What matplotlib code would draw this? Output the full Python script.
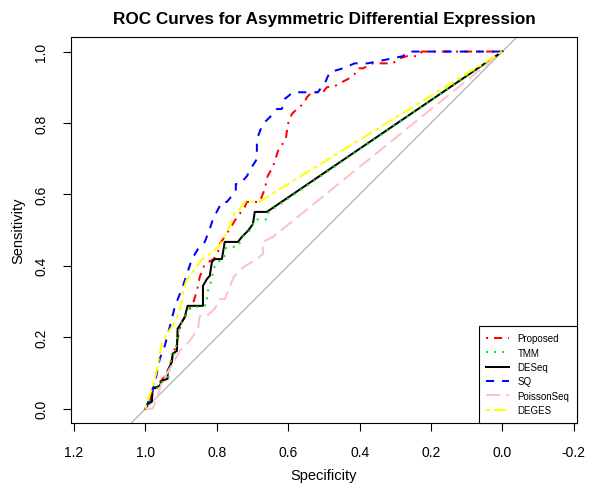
import matplotlib
matplotlib.use('Agg')
import matplotlib.pyplot as plt

plt.rcParams['font.family'] = ['Liberation Sans', 'DejaVu Sans']

# ROC curve vertices (specificity, sensitivity)
proposed_spec = [1.0, 0.988, 0.980, 0.952, 0.938, 0.926, 0.912, 0.901, 0.884, 0.867, 0.856, 0.848,
                 0.834, 0.809, 0.797, 0.792, 0.764, 0.747, 0.722, 0.716, 0.680, 0.666, 0.658, 0.643,
                 0.629, 0.607, 0.601, 0.590, 0.576, 0.556, 0.548, 0.534, 0.503, 0.492, 0.470, 0.450,
                 0.433, 0.414, 0.405, 0.391, 0.363, 0.307, 0.288, 0.268, 0.237, 0.226, 0.0]
proposed_sens = [0.0, 0.020, 0.048, 0.084, 0.098, 0.140, 0.187, 0.238, 0.266, 0.294, 0.330, 0.369,
                 0.405, 0.419, 0.439, 0.461, 0.503, 0.531, 0.565, 0.579, 0.579, 0.615, 0.651, 0.677,
                 0.721, 0.755, 0.797, 0.825, 0.839, 0.855, 0.872, 0.886, 0.886, 0.900, 0.903, 0.914,
                 0.923, 0.937, 0.953, 0.953, 0.967, 0.967, 0.981, 0.987, 0.987, 1.0, 1.0]

tmm_spec = [1.0, 0.990, 0.982, 0.962, 0.950, 0.935, 0.930, 0.920, 0.915, 0.910, 0.903, 0.893,
            0.884, 0.878, 0.830, 0.825, 0.815, 0.810, 0.800, 0.780, 0.775, 0.740, 0.730, 0.715,
            0.700, 0.695, 0.660, 0.655, 0.0]
tmm_sens = [0.0, 0.020, 0.050, 0.060, 0.080, 0.090, 0.130, 0.150, 0.170, 0.210, 0.230, 0.250,
            0.270, 0.280, 0.290, 0.330, 0.360, 0.390, 0.410, 0.420, 0.450, 0.455, 0.480, 0.490,
            0.510, 0.530, 0.530, 0.551, 1.0]

deseq_spec = [1.0, 0.994, 0.982, 0.980, 0.960, 0.954, 0.938, 0.938, 0.926, 0.924, 0.912, 0.910,
              0.898, 0.890, 0.882, 0.839, 0.839, 0.828, 0.820, 0.814, 0.806, 0.786, 0.778, 0.741,
              0.730, 0.713, 0.699, 0.694, 0.660, 0.0]
deseq_sens = [0.0, 0.014, 0.020, 0.056, 0.064, 0.078, 0.084, 0.106, 0.131, 0.154, 0.162, 0.224,
              0.243, 0.257, 0.288, 0.288, 0.344, 0.363, 0.372, 0.411, 0.419, 0.419, 0.467, 0.467,
              0.481, 0.498, 0.517, 0.551, 0.551, 1.0]

sq_spec = [1.0, 0.994, 0.974, 0.960, 0.946, 0.932, 0.918, 0.896, 0.882, 0.870, 0.853, 0.834,
           0.820, 0.811, 0.786, 0.772, 0.747, 0.747, 0.736, 0.716, 0.702, 0.688, 0.688, 0.677,
           0.666, 0.646, 0.632, 0.618, 0.610, 0.587, 0.517, 0.495, 0.484, 0.447, 0.414, 0.377,
           0.279, 0.265, 0.0]
sq_sens = [0.0, 0.014, 0.070, 0.140, 0.176, 0.229, 0.285, 0.341, 0.383, 0.419, 0.447, 0.467,
           0.503, 0.531, 0.579, 0.579, 0.609, 0.629, 0.629, 0.651, 0.677, 0.699, 0.755, 0.783,
           0.802, 0.822, 0.839, 0.839, 0.867, 0.886, 0.886, 0.917, 0.942, 0.953, 0.967, 0.967,
           0.987, 1.0, 1.0]

poisson_spec = [1.0, 0.980, 0.968, 0.954, 0.921, 0.904, 0.876, 0.853, 0.848, 0.828, 0.806, 0.792,
                0.778, 0.753, 0.725, 0.688, 0.671, 0.671, 0.643, 0.0]
poisson_sens = [0.0, 0.0, 0.028, 0.075, 0.131, 0.162, 0.190, 0.224, 0.260, 0.260, 0.280, 0.307,
                0.307, 0.369, 0.397, 0.419, 0.433, 0.467, 0.481, 1.0]

deges_spec = [1.0, 0.996, 0.980, 0.970, 0.955, 0.940, 0.925, 0.910, 0.900, 0.895, 0.885, 0.870,
              0.855, 0.840, 0.810, 0.790, 0.770, 0.760, 0.750, 0.735, 0.720, 0.680, 0.0]
deges_sens = [0.0, 0.020, 0.060, 0.100, 0.180, 0.210, 0.230, 0.260, 0.290, 0.330, 0.360, 0.380,
              0.400, 0.420, 0.440, 0.460, 0.500, 0.520, 0.550, 0.560, 0.580, 0.580, 1.0]

x_ticks = [1.2, 1.0, 0.8, 0.6, 0.4, 0.2, 0.0, -0.2]
y_ticks = [0.0, 0.2, 0.4, 0.6, 0.8, 1.0]

fig = plt.figure(figsize=(5.9, 4.85), dpi=100)
ax = fig.add_axes([0.1198, 0.1258, 0.8586, 0.7953])

# identity line
ax.axline((1.0, 0.0), (0.0, 1.0), color='darkgrey', lw=0.8, zorder=1)

lw = 1.45
ax.plot(proposed_spec, proposed_sens, color='red', lw=lw, ls=(0, (1, 3, 4, 3)), label='Proposed')
ax.plot(deseq_spec, deseq_sens, color='black', lw=lw, ls='-', label='DESeq')
ax.plot(tmm_spec, tmm_sens, color='#00ee00', lw=lw, ls=(0, (1, 3)), label='TMM')
ax.plot(sq_spec, sq_sens, color='blue', lw=lw, ls=(0, (4, 4)), label='SQ')
ax.plot(poisson_spec, poisson_sens, color='pink', lw=lw, ls=(0, (7, 3)), label='PoissonSeq')
ax.plot(deges_spec, deges_sens, color='yellow', lw=lw, ls=(0, (2, 2, 6, 2)), label='DEGES')

ax.set_xlim(1.2096, -0.2096)
ax.set_ylim(-0.04, 1.04)
ax.set_xticks(x_ticks)
ax.set_xticklabels([f'{v:.1f}' for v in x_ticks])
ax.set_yticks(y_ticks)
ax.set_yticklabels([f'{v:.1f}' for v in y_ticks], rotation=90, va='center')
ax.tick_params(direction='out', length=6, width=0.8, labelsize=10, pad=10)
for s in ax.spines.values():
    s.set_linewidth(0.8)

ax.set_title('ROC Curves for Asymmetric Differential Expression', fontsize=12.3,
             fontweight='bold', pad=10)
ax.set_xlabel('Specificity', fontsize=10.5, va='center')
ax.xaxis.set_label_coords(0.5, -0.135)
ax.set_ylabel('Sensitivity', fontsize=10.5, va='center')
ax.yaxis.set_label_coords(-0.103, 0.5)

h, l = ax.get_legend_handles_labels()
order = ['Proposed', 'TMM', 'DESeq', 'SQ', 'PoissonSeq', 'DEGES']
hd = dict(zip(l, h))
leg = ax.legend([hd[k] for k in order], order, loc='lower right', bbox_to_anchor=(1, 0),
                borderaxespad=0, fontsize=7, handlelength=2.3, labelspacing=0.45,
                fancybox=False, framealpha=1, edgecolor='black', borderpad=0.8,
                handletextpad=0.9)
leg.get_frame().set_linewidth(0.8)

fig.savefig('out.png', dpi=100)
